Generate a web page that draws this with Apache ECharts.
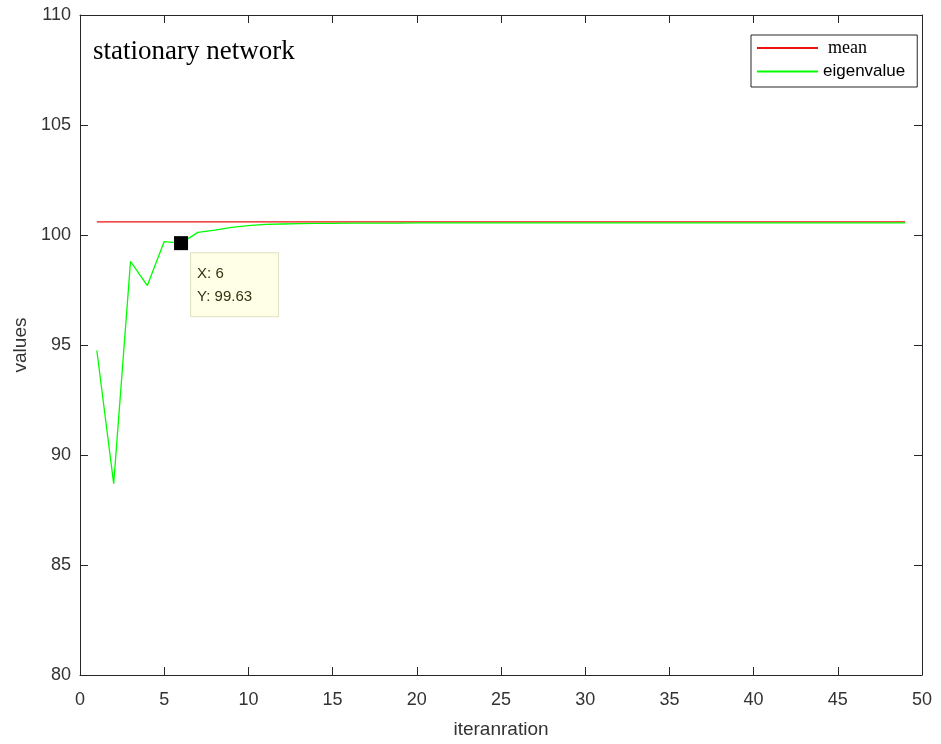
<!DOCTYPE html>
<html>
<head>
<meta charset="utf-8">
<script src="https://cdn.jsdelivr.net/npm/echarts@6/dist/echarts.min.js"></script>
<style>
  html, body { margin: 0; padding: 0; background: #fff; }
  #chart { width: 941px; height: 744px; }
</style>
</head>
<body>
<div id="chart"></div>
<script>
// Iterations 1..49
const iterations = Array.from({ length: 49 }, (_, i) => i + 1);

// Mean value (constant across iterations)
const meanValue = 100.6;

// Eigenvalue per iteration
const eigenvalues = [
  94.75, 88.7, 98.8, 97.7, 99.7, 99.63, 100.12, 100.22, 100.35, 100.43,
  100.48, 100.5, 100.52, 100.53, 100.53, 100.54, 100.54, 100.54, 100.54, 100.55,
  100.55, 100.55, 100.55, 100.55, 100.55, 100.55, 100.55, 100.55, 100.55, 100.55,
  100.55, 100.55, 100.55, 100.55, 100.55, 100.55, 100.55, 100.55, 100.55, 100.55,
  100.55, 100.55, 100.55, 100.55, 100.55, 100.55, 100.55, 100.55, 100.55
];

// Highlighted data tip
const tipX = 6;
const tipY = 99.63;

const SANS = 'Liberation Sans, Arial, sans-serif';
const SERIF = 'Liberation Serif, Times New Roman, serif';

function labelFont(extra) {
  return Object.assign({ fontFamily: SANS, fontSize: 18, color: '#333' }, extra || {});
}
function axisLine() {
  return { show: true, onZero: false, lineStyle: { color: '#262626', width: 1 } };
}
function tickIn() {
  return { show: true, inside: true, length: 8, lineStyle: { color: '#262626', width: 1 } };
}

const chart = echarts.init(document.getElementById('chart'));
chart.setOption({
  backgroundColor: '#fff',
  animation: false,
  title: {
    text: 'stationary network',
    left: 88, top: 33,
    textStyle: { fontFamily: SERIF, fontSize: 27, fontWeight: 'normal', color: '#000' }
  },
  legend: {
    orient: 'vertical',
    left: 751, top: 35,
    padding: [4, 12, 7, 6],
    itemGap: 6,
    itemWidth: 61, itemHeight: 2,
    borderColor: '#262626', borderWidth: 1,
    backgroundColor: '#fff',
    data: [
      { name: 'mean', icon: 'rect', textStyle: { fontFamily: SERIF, fontSize: 18, color: '#000', padding: [0, 0, 0, 5] } },
      { name: 'eigenvalue', icon: 'rect', textStyle: { fontFamily: SANS, fontSize: 17, color: '#000' } }
    ]
  },
  grid: { left: 80, right: 19, top: 15, bottom: 67, containLabel: false },
  xAxis: [
    {
      type: 'value', min: 0, max: 50, interval: 5, position: 'bottom',
      name: 'iteranration', nameLocation: 'middle', nameGap: 45,
      nameTextStyle: labelFont({ fontSize: 19 }),
      axisLine: axisLine(), axisTick: tickIn(),
      axisLabel: labelFont({ margin: 16 }),
      splitLine: { show: false }
    },
    {
      type: 'value', min: 0, max: 50, interval: 5, position: 'top',
      axisLine: axisLine(), axisTick: tickIn(), axisLabel: { show: false }, splitLine: { show: false }
    }
  ],
  yAxis: [
    {
      type: 'value', min: 80, max: 110, interval: 5, position: 'left',
      name: 'values', nameLocation: 'middle', nameGap: 50,
      nameTextStyle: labelFont({ fontSize: 19 }),
      axisLine: axisLine(), axisTick: tickIn(),
      axisLabel: labelFont({ margin: 9 }),
      splitLine: { show: false }
    },
    {
      type: 'value', min: 80, max: 110, interval: 5, position: 'right',
      axisLine: axisLine(), axisTick: tickIn(), axisLabel: { show: false }, splitLine: { show: false }
    }
  ],
  series: [
    {
      name: 'mean', type: 'line', symbol: 'none',
      data: iterations.map(x => [x, meanValue]),
      lineStyle: { color: '#f01010', width: 1.3 },
      itemStyle: { color: '#f01010' },
      z: 2
    },
    {
      name: 'eigenvalue', type: 'line', symbol: 'none',
      data: iterations.map((x, i) => [x, eigenvalues[i]]),
      lineStyle: { color: '#00ff00', width: 1.3 },
      itemStyle: { color: '#00ff00' },
      z: 3,
      markPoint: {
        symbol: 'rect', symbolSize: 14,
        itemStyle: { color: '#000' },
        data: [{ coord: [tipX, tipY], value: tipY }],
        label: {
          show: true,
          position: [17, 17],
          formatter: () => 'X: ' + tipX + '\nY: ' + tipY,
          fontFamily: SANS,
          fontSize: 15, lineHeight: 23, color: '#333311',
          backgroundColor: 'rgba(255,255,228,0.9)',
          borderColor: '#e2e2c4', borderWidth: 1,
          padding: [9, 26, 8, 6]
        }
      }
    }
  ]
});
</script>
</body>
</html>
